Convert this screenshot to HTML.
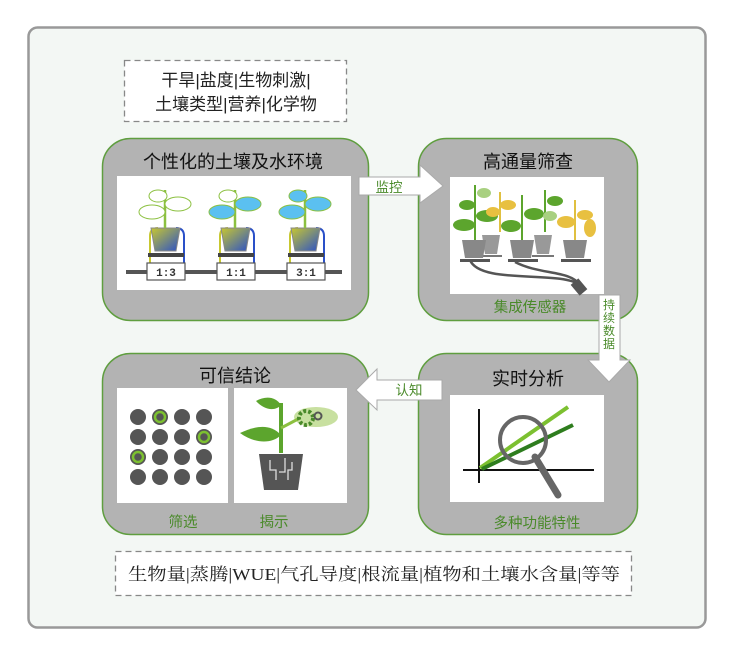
<!DOCTYPE html>
<html><head><meta charset="utf-8"><style>
html,body{margin:0;padding:0;background:#fff;}
svg{display:block;}
.t{font-family:"Liberation Sans","Noto Sans CJK SC",sans-serif;}
.s{font-family:"Liberation Serif","Noto Serif CJK SC",serif;}
</style></head><body>
<svg width="736" height="654" viewBox="0 0 736 654" xmlns="http://www.w3.org/2000/svg">
<rect x="28.5" y="27.5" width="677" height="600" rx="9" fill="#f3f7f4" stroke="#999" stroke-width="2.5"/>
<rect x="124.5" y="60.5" width="222" height="61" fill="#fff" stroke="#888" stroke-width="1.3" stroke-dasharray="6,4"/>
<text class="t" x="236" y="86" font-size="17" text-anchor="middle" fill="#222">干旱|盐度|生物刺激|</text>
<text class="t" x="236" y="110" font-size="17" text-anchor="middle" fill="#222">土壤类型|营养|化学物</text>
<rect x="115.5" y="551.5" width="516" height="44" fill="#fff" stroke="#888" stroke-width="1.3" stroke-dasharray="6,4"/>
<text class="s" x="374" y="580" font-size="17" text-anchor="middle" fill="#222" textLength="492" lengthAdjust="spacingAndGlyphs">生物量|蒸腾|WUE|气孔导度|根流量|植物和土壤水含量|等等</text>

<g fill="#b3b3b3" stroke="#5f9e3f" stroke-width="1.5">
<rect x="102.5" y="138.5" width="266" height="182" rx="28"/>
<rect x="418.5" y="138.5" width="219" height="182" rx="28"/>
<rect x="102.5" y="353.5" width="266" height="181" rx="28"/>
<rect x="418.5" y="353.5" width="219" height="181" rx="28"/>
</g>
<g class="t" font-size="18" text-anchor="middle" fill="#111">
<text x="233" y="168">个性化的土壤及水环境</text>
<text x="528" y="168">高通量筛查</text>
<text x="235" y="382">可信结论</text>
<text x="528" y="385">实时分析</text>
</g>
<g class="t" font-size="14.5" text-anchor="middle" fill="#4a8a2a">
<text x="530" y="312">集成传感器</text>
<text x="183" y="527">筛选</text>
<text x="274" y="527">揭示</text>
<text x="537" y="528">多种功能特性</text>
</g>

<g fill="#fff">
<rect x="117" y="176" width="234" height="114"/>
<rect x="450" y="177" width="154" height="117"/>
<rect x="117" y="388" width="111" height="115"/>
<rect x="234" y="388" width="113" height="115"/>
<rect x="450" y="395" width="154" height="107"/>
</g>

<polygon points="359,177 420,177 420,165 443,186 420,203 420,195 359,195" fill="#fff" stroke="#aaa" stroke-width="1"/>
<text class="t" x="389" y="192" font-size="13.5" text-anchor="middle" fill="#4a8a2a">监控</text>
<polygon points="442,380 377,380 377,369 356,390 377,410 377,400 442,400" fill="#fff" stroke="#aaa" stroke-width="1"/>
<text class="t" x="409" y="395" font-size="13.5" text-anchor="middle" fill="#4a8a2a">认知</text>
<polygon points="599,295 620,295 620,360 630,360 609,382 588,360 599,360" fill="#fff" stroke="#aaa" stroke-width="1"/>
<g class="t" font-size="12" text-anchor="middle" fill="#4a8a2a">
<text x="609" y="309">持</text><text x="609" y="322">续</text><text x="609" y="335">数</text><text x="609" y="348">据</text>
</g>

<defs>
<linearGradient id="pg" x1="0" y1="0" x2="1" y2="1"><stop offset="0" stop-color="#c8c830"/><stop offset="1" stop-color="#2a50c8"/></linearGradient>
</defs>
<rect x="126" y="270" width="216" height="4" fill="#555"/>
<g>
<path d="M150,270 V236 q0,-8 8,-8" fill="none" stroke="#c8c830" stroke-width="2"/>
<path d="M184,270 V236 q0,-8 -8,-8" fill="none" stroke="#2a50c8" stroke-width="2"/>
<polygon points="151,228 180,228 176,251 155,251" fill="url(#pg)" stroke="#888" stroke-width="1"/>
<rect x="148" y="253" width="36" height="4" fill="#444"/>
<rect x="147" y="263" width="38" height="17" fill="#fff" stroke="#555" stroke-width="1.2"/>
<line x1="165" y1="228" x2="165" y2="190" stroke="#8cc040" stroke-width="2.5"/>
<ellipse cx="152" cy="212" rx="13" ry="7" fill="#fff" stroke="#8cc040"/>
<ellipse cx="178" cy="204" rx="13" ry="7" fill="#fff" stroke="#8cc040"/>
<ellipse cx="158" cy="196" rx="9" ry="6" fill="#fff" stroke="#8cc040"/>
<text x="166" y="276" font-family="Liberation Mono,monospace" font-size="11" font-weight="bold" text-anchor="middle" fill="#333">1:3</text>
</g>
<g transform="translate(70,0)">
<path d="M150,270 V236 q0,-8 8,-8" fill="none" stroke="#c8c830" stroke-width="2"/>
<path d="M184,270 V236 q0,-8 -8,-8" fill="none" stroke="#2a50c8" stroke-width="2"/>
<polygon points="151,228 180,228 176,251 155,251" fill="url(#pg)" stroke="#888"/>
<rect x="148" y="253" width="36" height="4" fill="#444"/>
<rect x="147" y="263" width="38" height="17" fill="#fff" stroke="#555" stroke-width="1.2"/>
<line x1="165" y1="228" x2="165" y2="190" stroke="#8cc040" stroke-width="2.5"/>
<ellipse cx="152" cy="212" rx="13" ry="7" fill="#5bc0f0" stroke="#8cc040"/>
<ellipse cx="178" cy="204" rx="13" ry="7" fill="#5bc0f0" stroke="#8cc040"/>
<ellipse cx="158" cy="196" rx="9" ry="6" fill="#fff" stroke="#8cc040"/>
<text x="166" y="276" font-family="Liberation Mono,monospace" font-size="11" font-weight="bold" text-anchor="middle" fill="#333">1:1</text>
</g>
<g transform="translate(140,0)">
<path d="M150,270 V236 q0,-8 8,-8" fill="none" stroke="#c8c830" stroke-width="2"/>
<path d="M184,270 V236 q0,-8 -8,-8" fill="none" stroke="#2a50c8" stroke-width="2"/>
<polygon points="151,228 180,228 176,251 155,251" fill="url(#pg)" stroke="#888"/>
<rect x="148" y="253" width="36" height="4" fill="#444"/>
<rect x="147" y="263" width="38" height="17" fill="#fff" stroke="#555" stroke-width="1.2"/>
<line x1="165" y1="228" x2="165" y2="190" stroke="#8cc040" stroke-width="2.5"/>
<ellipse cx="152" cy="212" rx="13" ry="7" fill="#5bc0f0" stroke="#8cc040"/>
<ellipse cx="178" cy="204" rx="13" ry="7" fill="#5bc0f0" stroke="#8cc040"/>
<ellipse cx="158" cy="196" rx="9" ry="6" fill="#5bc0f0" stroke="#8cc040"/>
<text x="166" y="276" font-family="Liberation Mono,monospace" font-size="11" font-weight="bold" text-anchor="middle" fill="#333">3:1</text>
</g>

<g>
<path d="M470,260 C480,285 560,270 580,285" fill="none" stroke="#555" stroke-width="2.5"/>
<path d="M515,262 C540,275 570,270 580,285" fill="none" stroke="#555" stroke-width="2.5"/>
<rect x="574" y="280" width="10" height="14" fill="#555" transform="rotate(-40 579 287)"/>
<polygon points="482,235 500,235 497,254 485,254" fill="#999"/>
<polygon points="534,235 552,235 549,254 537,254" fill="#999"/>
<rect x="480" y="255" width="22" height="2" fill="#777"/><rect x="532" y="255" width="22" height="2" fill="#777"/>
<polygon points="462,240 486,240 483,258 465,258" fill="#888"/>
<polygon points="510,240 534,240 531,258 513,258" fill="#888"/>
<polygon points="563,240 587,240 584,258 566,258" fill="#888"/>
<rect x="460" y="259" width="30" height="3" fill="#555"/><rect x="508" y="259" width="30" height="3" fill="#555"/><rect x="561" y="259" width="30" height="3" fill="#555"/>
<g stroke="#5ca52d" stroke-width="2"><line x1="475" y1="240" x2="475" y2="185"/><line x1="522" y1="240" x2="522" y2="195"/><line x1="545" y1="232" x2="545" y2="190"/></g>
<g fill="#5ca52d"><ellipse cx="464" cy="225" rx="11" ry="6"/><ellipse cx="487" cy="216" rx="11" ry="6"/><ellipse cx="467" cy="205" rx="8" ry="5"/><ellipse cx="511" cy="226" rx="10" ry="6"/><ellipse cx="534" cy="214" rx="10" ry="6"/><ellipse cx="555" cy="201" rx="8" ry="5"/></g>
<g fill="#a8d080"><ellipse cx="484" cy="193" rx="7" ry="5"/><ellipse cx="550" cy="216" rx="7" ry="5"/></g>
<g stroke="#e0c040" stroke-width="2"><line x1="500" y1="232" x2="500" y2="192"/><line x1="575" y1="240" x2="575" y2="200"/></g>
<g fill="#e8c040"><ellipse cx="508" cy="205" rx="8" ry="5"/><ellipse cx="493" cy="212" rx="7" ry="5"/><ellipse cx="566" cy="222" rx="9" ry="6"/><ellipse cx="585" cy="215" rx="8" ry="5"/><ellipse cx="590" cy="228" rx="6" ry="9"/></g>
</g>

<g fill="#555">
<circle cx="138" cy="417" r="8"/><circle cx="160" cy="417" r="8"/><circle cx="182" cy="417" r="8"/><circle cx="204" cy="417" r="8"/>
<circle cx="138" cy="437" r="8"/><circle cx="160" cy="437" r="8"/><circle cx="182" cy="437" r="8"/><circle cx="204" cy="437" r="8"/>
<circle cx="138" cy="457" r="8"/><circle cx="160" cy="457" r="8"/><circle cx="182" cy="457" r="8"/><circle cx="204" cy="457" r="8"/>
<circle cx="138" cy="477" r="8"/><circle cx="160" cy="477" r="8"/><circle cx="182" cy="477" r="8"/><circle cx="204" cy="477" r="8"/>
</g>
<g fill="none" stroke="#7cc030" stroke-width="2.5"><circle cx="160" cy="417" r="5"/><circle cx="204" cy="437" r="5"/><circle cx="138" cy="457" r="5"/></g>
<ellipse cx="316" cy="417" rx="22" ry="10" fill="#c8e0a0"/>
<line x1="281" y1="453" x2="281" y2="403" stroke="#5ca52d" stroke-width="4"/>
<path d="M281,435 C270,423 255,426 240,433 C255,444 272,444 281,435Z" fill="#5ca52d"/>
<path d="M281,405 C275,396 265,396 256,401 C265,411 276,411 281,405Z" fill="#5ca52d"/>
<line x1="281" y1="428" x2="300" y2="418" stroke="#8cc040" stroke-width="3"/>
<circle cx="306" cy="418" r="7" fill="none" stroke="#4a8a2a" stroke-width="4" stroke-dasharray="3,2"/>
<circle cx="318" cy="416" r="3.5" fill="none" stroke="#555" stroke-width="2"/>
<polygon points="259,454 303,454 298,490 264,490" fill="#555"/>
<path d="M270,460 v10 h6 v10 M285,458 v14 h-6 M292,462 v8 h-4 v10" fill="none" stroke="#ddd" stroke-width="1.3"/>

<line x1="479" y1="409" x2="479" y2="483" stroke="#111" stroke-width="2"/>
<line x1="463" y1="470" x2="594" y2="470" stroke="#111" stroke-width="2"/>
<line x1="480" y1="468" x2="568" y2="407" stroke="#7cc030" stroke-width="4"/>
<line x1="482" y1="469" x2="573" y2="425" stroke="#2e7d1e" stroke-width="4"/>
<line x1="535" y1="457" x2="558" y2="495" stroke="#666" stroke-width="7" stroke-linecap="round"/>
<circle cx="523" cy="440" r="23" fill="none" stroke="#666" stroke-width="4"/>
</svg>
</body></html>
